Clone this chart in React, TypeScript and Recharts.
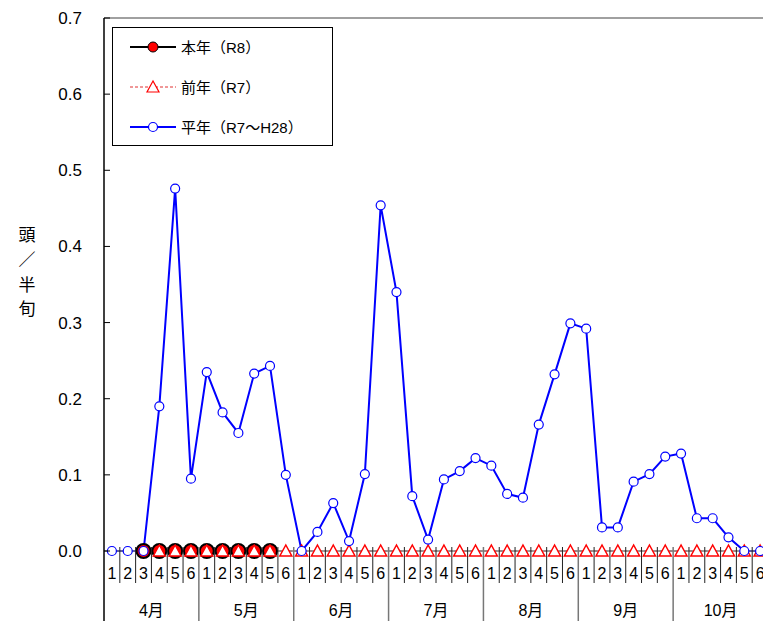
import { ComposedChart, Line, XAxis, YAxis, Legend, ReferenceLine, Label } from "recharts";

const MONTHS = ["4月", "5月", "6月", "7月", "8月", "9月", "10月"];
const HALVES = ["1", "2", "3", "4", "5", "6"];

// 平年 (R7～H28)
const HEINEN = [
  0, 0, 0, 0.19, 0.476, 0.095,
  0.235, 0.182, 0.155, 0.233, 0.243, 0.1,
  0, 0.025, 0.063, 0.013, 0.101, 0.454,
  0.34, 0.072, 0.015, 0.094, 0.105, 0.122,
  0.112, 0.075, 0.07, 0.166, 0.232, 0.299,
  0.292, 0.031, 0.031, 0.091, 0.101, 0.124,
  0.128, 0.043, 0.043, 0.018, 0, 0,
];

// 前年 (R7)
const ZENNEN = [
  null, null, null, 0, 0, 0,
  0, 0, 0, 0, 0, 0,
  0, 0, 0, 0, 0, 0,
  0, 0, 0, 0, 0, 0,
  0, 0, 0, 0, 0, 0,
  0, 0, 0, 0, 0, 0,
  0, 0, 0, 0, 0, 0,
];

// 本年 (R8)
const HONNEN = [
  null, null, 0, 0, 0, 0,
  0, 0, 0, 0, 0, null,
  null, null, null, null, null, null,
  null, null, null, null, null, null,
  null, null, null, null, null, null,
  null, null, null, null, null, null,
  null, null, null, null, null, null,
];

const Y_TICKS = [0, 0.1, 0.2, 0.3, 0.4, 0.5, 0.6, 0.7];

const data = MONTHS.flatMap((m, mi) =>
  HALVES.map((h, hi) => {
    const i = mi * 6 + hi;
    return { key: `${m}-${h}`, month: m, half: h, heinen: HEINEN[i], zennen: ZENNEN[i], honnen: HONNEN[i] };
  })
);

const FONT = '"Liberation Sans", Arial, "Noto Sans CJK JP", sans-serif';
const BAND = 15.8;

const Triangle = (props: any) => {
  const { cx, cy, key } = props;
  if (cx == null || cy == null) return null;
  return (
    <polygon
      key={key}
      points={`${cx},${cy - 6} ${cx - 6},${cy + 5} ${cx + 6},${cy + 5}`}
      fill="#fff"
      stroke="#ff0000"
      strokeWidth={1.5}
    />
  );
};

const XTick = (props: any) => {
  const { x, y, index, payload } = props;
  const row = data[index];
  const hi = index % 6;
  const left = x - BAND / 2;
  return (
    <g>
      {index === 0 ? (
        <line x1={left} y1={y} x2={left} y2={y + 70} stroke="#000" strokeWidth={1.5} />
      ) : hi === 0 ? (
        <line x1={left} y1={y - 4} x2={left} y2={y + 70} stroke="#777" strokeWidth={1.5} />
      ) : (
        <line x1={left} y1={y - 4} x2={left} y2={y + 32} stroke="#222" strokeWidth={1} />
      )}
      <text x={x} y={y + 28} textAnchor="middle" fontSize={16} fontFamily={FONT} fill="#000">
        {row ? row.half : payload.value}
      </text>
      {hi === 2 && (
        <text x={x + BAND / 2} y={y + 65} textAnchor="middle" fontSize={16} fontFamily={FONT} fill="#000">
          {row.month}
        </text>
      )}
    </g>
  );
};

const YTick = (props: any) => {
  const { x, y, payload } = props;
  return (
    <g>
      <line x1={x} y1={y} x2={x + 6} y2={y} stroke="#000" />
      <text x={x - 22} y={y + 6} textAnchor="end" fontSize={17} fontFamily={FONT} fill="#000">
        {payload.value.toFixed(1)}
      </text>
    </g>
  );
};

const YLabel = () => {
  const chars = ["頭", "／", "半", "旬"];
  const ys = [241, 266, 291, 315];
  return (
    <g>
      {chars.map((c, i) => (
        <text key={c} x={27} y={ys[i]} textAnchor="middle" fontSize={17} fontFamily={FONT} fill="#000">
          {c}
        </text>
      ))}
    </g>
  );
};

const LEGEND_ROWS = [
  { name: "本年（R8）", kind: "honnen" },
  { name: "前年（R7）", kind: "zennen" },
  { name: "平年（R7～H28）", kind: "heinen" },
];

const LegendBox = () => (
  <svg width={221} height={119} style={{ display: "block" }}>
    <rect x={0.5} y={0.5} width={220} height={118} fill="#fff" stroke="#000" />
    {LEGEND_ROWS.map((r, i) => {
      const cy = 20 + i * 40;
      return (
        <g key={r.kind}>
          {r.kind === "honnen" && (
            <>
              <line x1={18} y1={cy} x2={64} y2={cy} stroke="#000" strokeWidth={2} />
              <circle cx={41} cy={cy} r={5} fill="#ff0000" stroke="#000" strokeWidth={1} />
            </>
          )}
          {r.kind === "zennen" && (
            <>
              <line x1={18} y1={cy} x2={64} y2={cy} stroke="#e03030" strokeWidth={1} strokeDasharray="3 2" />
              <polygon points={`41,${cy - 6} 35,${cy + 5} 47,${cy + 5}`} fill="#fff" stroke="#ff0000" strokeWidth={1.2} />
            </>
          )}
          {r.kind === "heinen" && (
            <>
              <line x1={18} y1={cy} x2={64} y2={cy} stroke="#0000ff" strokeWidth={2} />
              <circle cx={41} cy={cy} r={4.5} fill="#fff" stroke="#0000ff" strokeWidth={1.2} />
            </>
          )}
          <text x={69} y={cy + 6} fontSize={15} fontFamily={FONT} fill="#000">
            {r.name}
          </text>
        </g>
      );
    })}
  </svg>
);

export default function App() {
  return (
    <div
      style={{
        position: "absolute",
        left: 0,
        top: 0,
        width: 763,
        height: 621,
        overflow: "hidden",
        background: "#fff",
      }}
    >
      <ComposedChart width={768} height={621} data={data} margin={{ top: 18, right: 0, bottom: 0, left: 0 }}>
        <XAxis
          dataKey="key"
          type="category"
          scale="band"
          interval={0}
          height={70}
          tickLine={false}
          tickSize={0}
          tickMargin={0}
          axisLine={{ stroke: "#808080", strokeWidth: 1.5 }}
          tick={<XTick />}
        />
        <YAxis
          width={104}
          domain={[0, 0.7]}
          ticks={Y_TICKS}
          tickLine={false}
          tickSize={0}
          tickMargin={0}
          axisLine={{ stroke: "#000", strokeWidth: 1.5 }}
          tick={<YTick />}
        >
          <Label content={<YLabel />} />
        </YAxis>
        <ReferenceLine y={0.7} stroke="#808080" strokeWidth={1.5} />
        <Legend
          layout="horizontal"
          verticalAlign="middle"
          align="center"
          content={<LegendBox />}
          wrapperStyle={{ position: "absolute", left: 112, top: 27, width: 221, height: 119 }}
        />
        <Line
          dataKey="honnen"
          stroke="#000"
          strokeWidth={2}
          dot={{ r: 7, fill: "#ff0000", stroke: "#000", strokeWidth: 2 }}
          isAnimationActive={false}
        />
        <Line
          dataKey="zennen"
          stroke="#e03030"
          strokeWidth={1}
          strokeDasharray="3 2"
          dot={<Triangle />}
          isAnimationActive={false}
        />
        <Line
          dataKey="heinen"
          stroke="#0000ff"
          strokeWidth={2}
          dot={{ r: 4.5, fill: "#fff", stroke: "#0000ff", strokeWidth: 1.2 }}
          isAnimationActive={false}
        />
      </ComposedChart>
    </div>
  );
}
